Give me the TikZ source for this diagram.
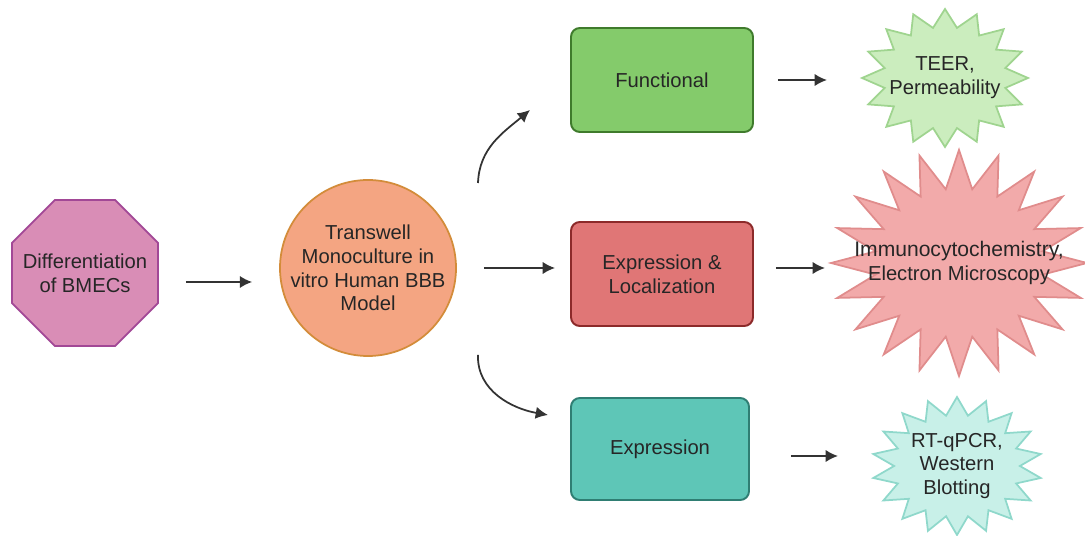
\documentclass[tikz,border=0pt]{standalone}
\usepackage{fontspec}
\setmainfont{Liberation Sans}
\usepackage{tikz}
\usetikzlibrary{shapes.geometric,arrows.meta,positioning,calc,backgrounds}
\usepackage{xcolor}

\definecolor{octfill}{HTML}{D98DB6}
\definecolor{octline}{HTML}{A24896}
\definecolor{bbbfill}{HTML}{F4A582}
\definecolor{bbbline}{HTML}{D38C3A}
\definecolor{funfill}{HTML}{84CB6B}
\definecolor{funline}{HTML}{3F7B2C}
\definecolor{locfill}{HTML}{E07676}
\definecolor{locline}{HTML}{8C2A2A}
\definecolor{expfill}{HTML}{5EC6B7}
\definecolor{expline}{HTML}{2F7E73}
\definecolor{teerfill}{HTML}{CBEDBE}
\definecolor{teerline}{HTML}{9FD48F}
\definecolor{iccfill}{HTML}{F2AAAA}
\definecolor{iccline}{HTML}{E08C8C}
\definecolor{pcrfill}{HTML}{C8F0E8}
\definecolor{pcrline}{HTML}{8FD8CB}

% starburst round a node: centre, x radius, y radius, number of points (2n-1), ratio, style
\newcommand{\burst}[6]{%
  \draw[#6] ($(#1)+(90:#2 and #3)$)
    \foreach \k [evaluate=\k as \rr using {mod(\k,2)==0 ? 1 : #5}] in {1,...,#4}
      { -- ($(#1)+({90+\k*180/((#4+1)/2)}:{\rr*#2} and {\rr*#3})$) } -- cycle;
}

\begin{document}
\begin{tikzpicture}[
  txt/.style={align=center, font=\fontsize{11.5}{13.5}\selectfont, text=black!85},
  octo/.style={regular polygon, regular polygon sides=8, minimum size=3.16cm, inner sep=0pt, draw=octline, fill=octfill, line width=1pt},
  model/.style={circle, minimum size=3.52cm, inner sep=0pt, draw=bbbline, fill=bbbfill, line width=1pt},
  box/.style={txt, draw, rounded corners=5pt, minimum width=3.64cm, minimum height=2.08cm, line width=1.1pt},
  arr/.style={-{Latex[length=7pt,width=7pt]}, line width=1pt, color=black!80},
]
\useasboundingbox (0,0) rectangle (21.7,-10.72);

% ─── Left part ───
\node[octo, label={[txt]center:Differentiation\\of BMECs}] (diff) at (1.70,-5.46) {};
\node[model, label={[txt]center:Transwell\\Monoculture in\\vitro Human BBB\\Model}] (bbb) at (7.36,-5.36) {};

% ─── Readout boxes ───
\node[box, draw=funline, fill=funfill] (func) at (13.24,-1.60) {Functional};
\node[box, draw=locline, fill=locfill] (loc)  at (13.24,-5.48) {Expression \&\\Localization};
\node[box, draw=expline, fill=expfill, minimum width=3.56cm, minimum height=2.04cm] (expr) at (13.20,-8.98) {Expression};

% ─── Methods (text, bursts behind) ───
\node[txt] (teer) at (18.90,-1.56) {TEER,\\Permeability};
\node[txt] (icc)  at (19.18,-5.26) {\fontsize{12}{14}\selectfont Immunocytochemistry,\\Electron Microscopy};
\node[txt] (pcr)  at (19.14,-9.32) {RT-qPCR,\\Western\\Blotting};

\begin{scope}[on background layer]
  \burst{teer}{1.66cm}{1.38cm}{31}{0.74}{draw=teerline, fill=teerfill, line width=1pt}
  \burst{icc}{2.56cm}{2.26cm}{39}{0.66}{draw=iccline, fill=iccfill, line width=1pt}
  \burst{pcr}{1.70cm}{1.38cm}{35}{0.74}{draw=pcrline, fill=pcrfill, line width=1pt}
\end{scope}

% ─── Free ends of the curved arrows ───
\coordinate (upstart) at (9.56,-3.66);
\coordinate (upend)   at (10.60,-2.20);
\coordinate (dnstart) at (9.56,-7.10);
\coordinate (dnend)   at (10.96,-8.30);

% ─── Arrows ───
\draw[arr] ([xshift=0.54cm, yshift=-0.18cm]diff.east) -- ([xshift=-0.54cm, yshift=-0.18cm]diff.east -| bbb.west);
\draw[arr] ([xshift=0.54cm, yshift=0.12cm]bbb.east |- loc.west) -- ([xshift=-0.30cm, yshift=0.12cm]loc.west);
\draw[arr] (upstart) to[out=88, in=220] (upend);
\draw[arr] (dnstart) to[out=-92, in=170] (dnend);

\draw[arr] ([xshift=0.48cm]func.east) -- ([xshift=1.46cm]func.east);
\draw[arr] ([xshift=0.44cm, yshift=0.12cm]loc.east) -- ([xshift=1.42cm, yshift=0.12cm]loc.east);
\draw[arr] ([xshift=0.82cm, yshift=-0.14cm]expr.east) -- ([xshift=1.76cm, yshift=-0.14cm]expr.east);

\end{tikzpicture}
\end{document}
